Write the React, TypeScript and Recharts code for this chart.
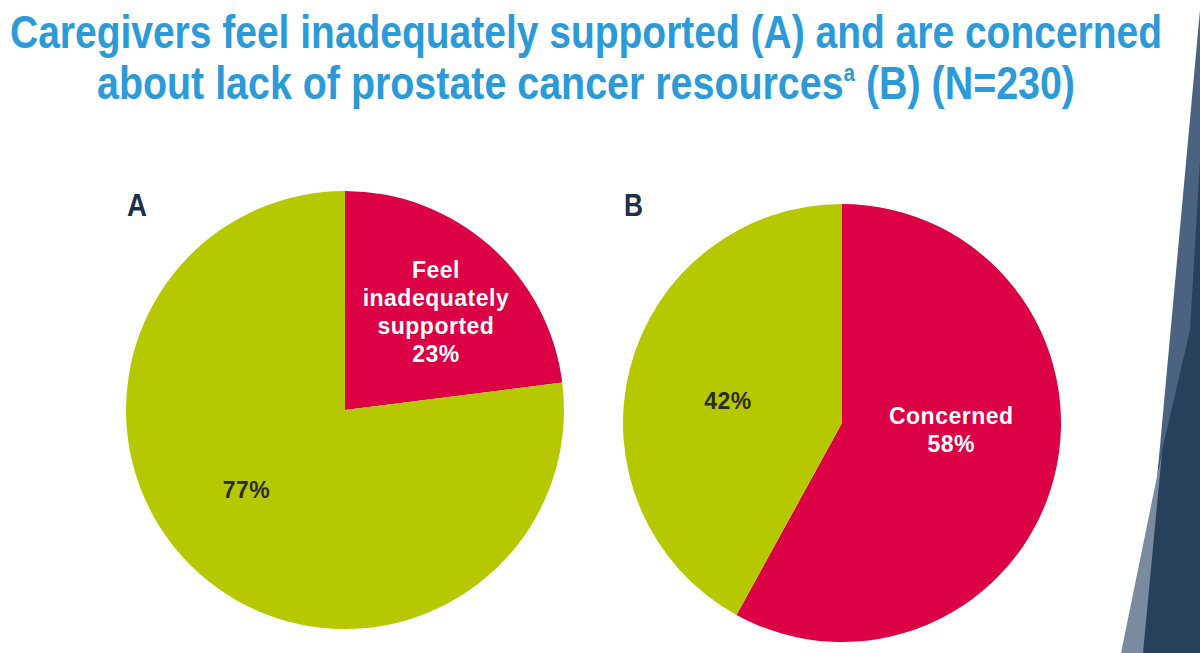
import { PieChart, Pie, Cell } from 'recharts'

// Panel A: share of caregivers who feel inadequately supported
const supportLabels = ['Feel inadequately supported', 'Other']
const supportValues = [23, 77]

// Panel B: share concerned about lack of prostate cancer resources
const resourceLabels = ['Concerned', 'Other']
const resourceValues = [58, 42]

const RED = '#dc0045'
const GREEN = '#b6c800'
const TITLE_BLUE = '#2b9ad8'
const NAVY = '#1c2f4c'

const W = 1200
const H = 653
const R = 219

const labelFont = '"Liberation Sans", Arial, sans-serif'
// no narrow face installed, so the heading is squeezed with textLength
const titleFont = '"Liberation Sans", Arial, sans-serif'

const toRows = (labels: string[], values: number[]) =>
  labels.map((name, i) => ({ name, value: values[i] }))

type Spot = { r: number; shift: number; lines: (v: number) => string[]; color: string }

// where each slice's text sits: fraction of radius and an angular nudge (deg)
const spotsA: Spot[] = [
  { r: 0.61, shift: -1.5, lines: (v) => ['Feel', 'inadequately', 'supported', `${v}%`], color: '#fff' },
  { r: 0.58, shift: -9.5, lines: (v) => [`${v}%`], color: '#2d2d14' },
]
const spotsB: Spot[] = [
  { r: 0.5, shift: 10.5, lines: (v) => ['Concerned', `${v}%`], color: '#fff' },
  { r: 0.53, shift: 3.5, lines: (v) => [`${v}%`], color: '#2d2d14' },
]

const RADIAN = Math.PI / 180

function sliceLabel(spots: Spot[]) {
  return (props: any) => {
    const { cx, cy, midAngle, outerRadius, value, index } = props
    const s = spots[index]
    const a = (midAngle + s.shift) * RADIAN
    const x = cx + outerRadius * s.r * Math.cos(a)
    const y = cy - outerRadius * s.r * Math.sin(a)
    const lines = s.lines(value)
    const step = 28
    const top = y - ((lines.length - 1) * step) / 2
    return (
      <text
        key={`lbl-${index}`}
        x={x}
        y={top}
        fill={s.color}
        textAnchor="middle"
        dominantBaseline="central"
        fontFamily={labelFont}
        fontWeight={700}
        fontSize={23}
        letterSpacing={0.5}
      >
        {lines.map((t, i) => (
          <tspan key={i} x={x} y={top + i * step}>
            {t}
          </tspan>
        ))}
      </text>
    )
  }
}

export default function App() {
  const dataA = toRows(supportLabels, supportValues)
  const dataB = toRows(resourceLabels, resourceValues)
  return (
    <div style={{ position: 'absolute', left: 0, top: 0, width: W, height: H, background: '#fff' }}>
      <PieChart width={W} height={H} margin={{ top: 0, right: 0, bottom: 0, left: 0 }}>
        {/* slide corner decoration */}
        <polygon points="1200,10 1158,468 1200,468" fill="#4b6280" />
        <polygon points="1200,160 1190,330 1158,468 1142,653 1200,653" fill="#27415d" />
        <polygon points="1162,452 1121,653 1143,653" fill="#7a8ba0" />

        <text
          x={10}
          y={48}
          textLength={1152}
          lengthAdjust="spacingAndGlyphs"
          fill={TITLE_BLUE}
          fontFamily={titleFont}
          fontWeight={700}
          fontSize={46}
        >
          Caregivers feel inadequately supported (A) and are concerned
        </text>
        <text
          x={97}
          y={99}
          textLength={978}
          lengthAdjust="spacingAndGlyphs"
          fill={TITLE_BLUE}
          fontFamily={titleFont}
          fontWeight={700}
          fontSize={46}
        >
          about lack of prostate cancer resources
          <tspan fontSize={24} dy={-18}>a</tspan>
          <tspan dy={18}> (B) (N=230)</tspan>
        </text>

        <text
          x={127}
          y={216}
          textLength={20}
          lengthAdjust="spacingAndGlyphs"
          fill={NAVY}
          fontFamily={titleFont}
          fontWeight={700}
          fontSize={31}
        >
          A
        </text>
        <text
          x={624}
          y={216}
          textLength={19}
          lengthAdjust="spacingAndGlyphs"
          fill={NAVY}
          fontFamily={titleFont}
          fontWeight={700}
          fontSize={31}
        >
          B
        </text>

        <Pie
          data={dataA}
          dataKey="value"
          cx={345}
          cy={410}
          outerRadius={R}
          startAngle={90}
          endAngle={-270}
          stroke="none"
          labelLine={false}
          label={sliceLabel(spotsA)}
          isAnimationActive={false}
        >
          <Cell fill={RED} />
          <Cell fill={GREEN} />
        </Pie>
        <Pie
          data={dataB}
          dataKey="value"
          cx={842}
          cy={423}
          outerRadius={R}
          startAngle={90}
          endAngle={-270}
          stroke="none"
          labelLine={false}
          label={sliceLabel(spotsB)}
          isAnimationActive={false}
        >
          <Cell fill={RED} />
          <Cell fill={GREEN} />
        </Pie>
      </PieChart>
    </div>
  )
}
